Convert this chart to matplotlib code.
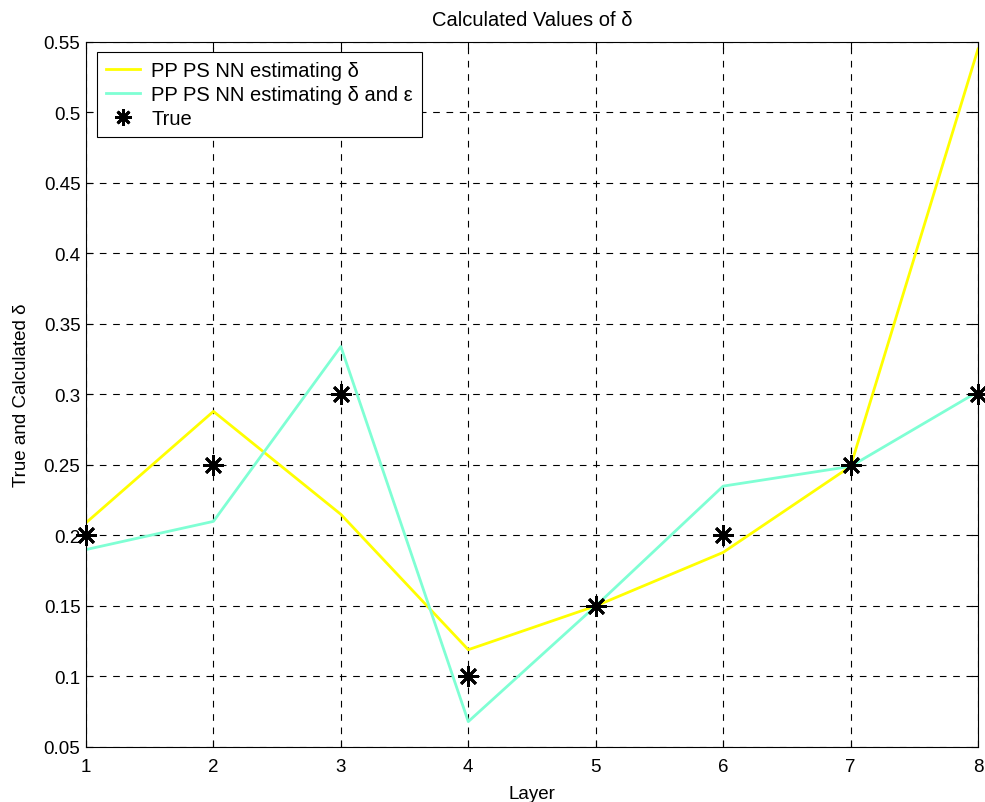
import matplotlib
matplotlib.use("Agg")
import matplotlib.pyplot as plt

layers = [1, 2, 3, 4, 5, 6, 7, 8]
est_delta = [0.209, 0.288, 0.215, 0.119, 0.150, 0.188, 0.249, 0.545]
est_delta_eps = [0.190, 0.210, 0.334, 0.068, 0.150, 0.235, 0.249, 0.302]
true_vals = [0.20, 0.25, 0.30, 0.10, 0.15, 0.20, 0.25, 0.30]
yticks = [0.05, 0.1, 0.15, 0.2, 0.25, 0.3, 0.35, 0.4, 0.45, 0.5, 0.55]
ytick_labels = ["0.05", "0.1", "0.15", "0.2", "0.25", "0.3", "0.35", "0.4", "0.45", "0.5", "0.55"]

plt.rcParams['font.family'] = ['Liberation Sans', 'DejaVu Sans']
plt.rcParams['font.size'] = 13.5

fig = plt.figure(figsize=(9.85, 8.03), dpi=100)
ax = fig.add_axes([0.0873, 0.0685, 0.9056, 0.878])

ax.plot(layers, est_delta, color='#FFFF00', lw=2.0, label='PP PS NN estimating δ')
ax.plot(layers, est_delta_eps, color='#7FFFD4', lw=2.0, label='PP PS NN estimating δ and ε')
ax.plot(layers, true_vals, linestyle='none', marker=(8, 2, 0), markersize=15,
        markeredgewidth=2.0, color='black', label='True', clip_on=False)

ax.set_xlim(1, 8)
ax.set_ylim(0.05, 0.55)
ax.set_xticks(layers)
ax.set_yticks(yticks)
ax.set_yticklabels(ytick_labels)
ax.grid(True, color='black', linestyle=(0, (6, 6)), linewidth=0.8)
ax.tick_params(direction='in', top=True, right=True, length=5, width=0.8, pad=4)
ax.tick_params(axis='x', pad=8)
for s in ax.spines.values():
    s.set_linewidth(0.8)

ax.set_xlabel('Layer', labelpad=7)
ax.set_ylabel('True and Calculated δ', labelpad=10)
ax.set_title('Calculated Values of δ', fontsize=14.5, pad=12)

leg = ax.legend(loc='upper left', bbox_to_anchor=(0.012, 0.986), borderaxespad=0,
                fancybox=False, edgecolor='black', framealpha=1, handlelength=1.7,
                handletextpad=0.55, labelspacing=0.25, borderpad=0.45, fontsize=14.5,
                markerscale=0.8)
leg.get_frame().set_linewidth(0.8)

fig.savefig('out.png', dpi=100)
